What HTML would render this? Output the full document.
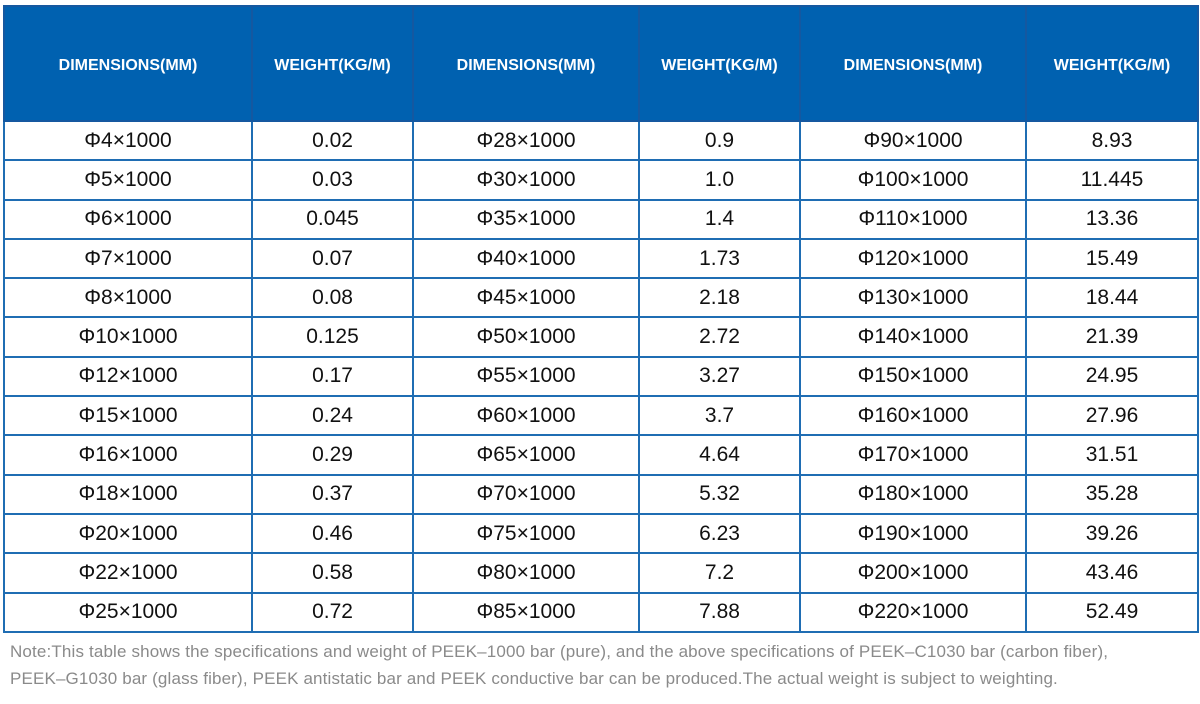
<!DOCTYPE html>
<html><head><meta charset="utf-8"><style>
body{margin:0;width:1200px;height:704px;background:#fff;position:relative;overflow:hidden;font-family:"Liberation Sans","DejaVu Sans",sans-serif;}
table{position:absolute;left:3px;top:5px;width:1194px;border-collapse:collapse;table-layout:fixed;}
td,th{border:2px solid #1f6db3;text-align:center;padding:0;color:#111;}
th{background:#0061b0;color:#fff;font-size:16px;font-weight:bold;height:115px;border-color:#1558a0;padding-top:4px;box-sizing:border-box;}
td{font-size:21px;height:37.3px;}
.note{position:absolute;left:10px;top:638px;width:1140px;color:#8a8a8a;font-size:17px;line-height:27px;letter-spacing:0.15px;}
</style></head><body>
<table>
<colgroup><col style="width:248px"><col style="width:161px"><col style="width:226px"><col style="width:161px"><col style="width:226px"><col style="width:172px"></colgroup>
<tr><th>DIMENSIONS(MM)</th><th>WEIGHT(KG/M)</th><th>DIMENSIONS(MM)</th><th>WEIGHT(KG/M)</th><th>DIMENSIONS(MM)</th><th>WEIGHT(KG/M)</th></tr>
<tr><td>Φ4×1000</td><td>0.02</td><td>Φ28×1000</td><td>0.9</td><td>Φ90×1000</td><td>8.93</td></tr>
<tr><td>Φ5×1000</td><td>0.03</td><td>Φ30×1000</td><td>1.0</td><td>Φ100×1000</td><td>11.445</td></tr>
<tr><td>Φ6×1000</td><td>0.045</td><td>Φ35×1000</td><td>1.4</td><td>Φ110×1000</td><td>13.36</td></tr>
<tr><td>Φ7×1000</td><td>0.07</td><td>Φ40×1000</td><td>1.73</td><td>Φ120×1000</td><td>15.49</td></tr>
<tr><td>Φ8×1000</td><td>0.08</td><td>Φ45×1000</td><td>2.18</td><td>Φ130×1000</td><td>18.44</td></tr>
<tr><td>Φ10×1000</td><td>0.125</td><td>Φ50×1000</td><td>2.72</td><td>Φ140×1000</td><td>21.39</td></tr>
<tr><td>Φ12×1000</td><td>0.17</td><td>Φ55×1000</td><td>3.27</td><td>Φ150×1000</td><td>24.95</td></tr>
<tr><td>Φ15×1000</td><td>0.24</td><td>Φ60×1000</td><td>3.7</td><td>Φ160×1000</td><td>27.96</td></tr>
<tr><td>Φ16×1000</td><td>0.29</td><td>Φ65×1000</td><td>4.64</td><td>Φ170×1000</td><td>31.51</td></tr>
<tr><td>Φ18×1000</td><td>0.37</td><td>Φ70×1000</td><td>5.32</td><td>Φ180×1000</td><td>35.28</td></tr>
<tr><td>Φ20×1000</td><td>0.46</td><td>Φ75×1000</td><td>6.23</td><td>Φ190×1000</td><td>39.26</td></tr>
<tr><td>Φ22×1000</td><td>0.58</td><td>Φ80×1000</td><td>7.2</td><td>Φ200×1000</td><td>43.46</td></tr>
<tr><td>Φ25×1000</td><td>0.72</td><td>Φ85×1000</td><td>7.88</td><td>Φ220×1000</td><td>52.49</td></tr>
</table>
<div class="note">Note:This table shows the specifications and weight of PEEK–1000 bar (pure), and the above specifications of PEEK–C1030 bar (carbon fiber),<br>PEEK–G1030 bar (glass fiber), PEEK antistatic bar and PEEK conductive bar can be produced.The actual weight is subject to weighting.</div>
</body></html>
